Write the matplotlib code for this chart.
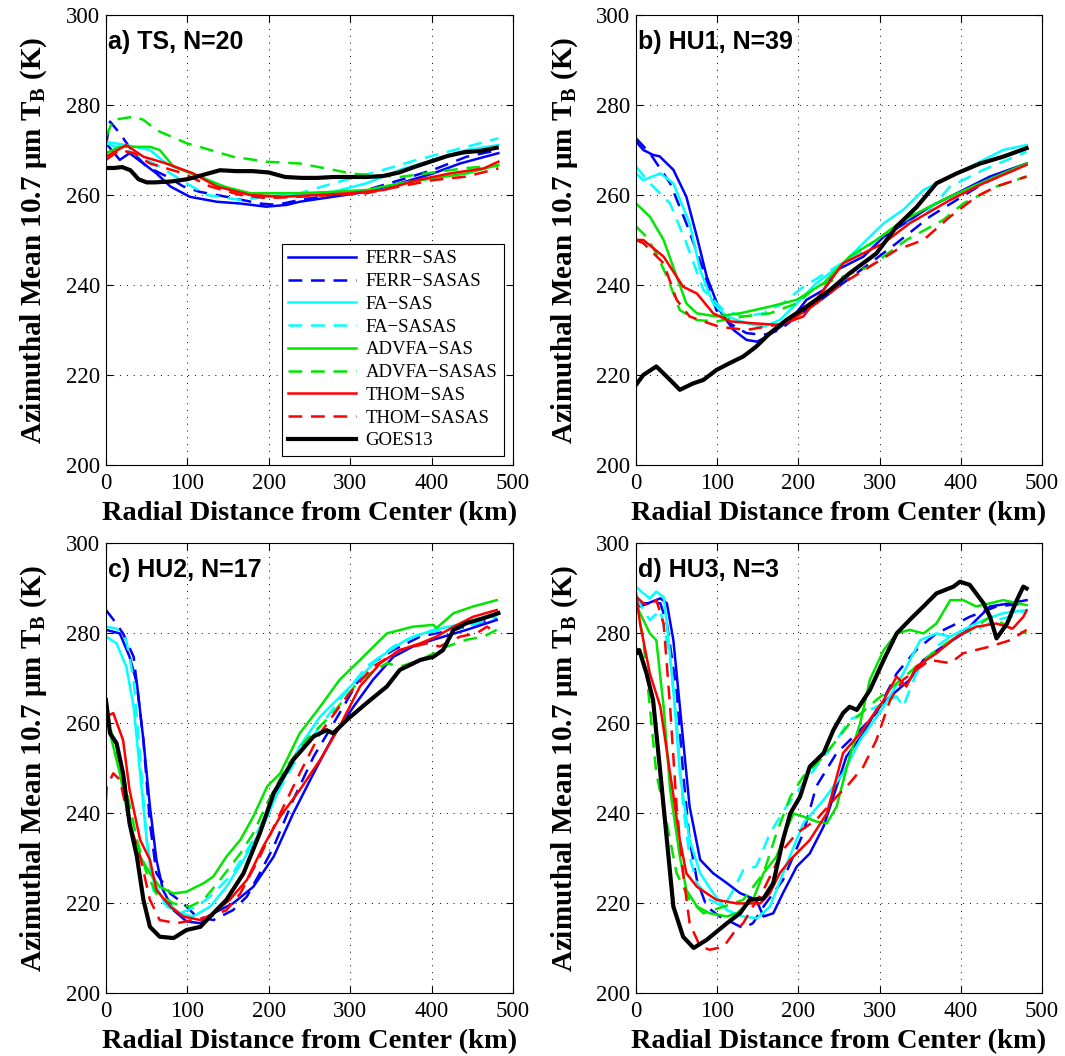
import matplotlib
matplotlib.use("Agg")
import matplotlib.pyplot as plt

plt.rcParams['font.family'] = ['Liberation Serif', 'DejaVu Serif']
plt.rcParams['mathtext.fontset'] = 'custom'
plt.rcParams['mathtext.rm'] = 'Liberation Serif'
plt.rcParams['mathtext.bf'] = 'Liberation Serif:bold'

# ---- a) TS ----
a_ferr_sas_km = [0, 17, 29, 62, 79, 103, 136, 165, 197, 222, 238, 279, 320, 361, 402, 435, 482]
a_ferr_sas_tb = [271.5, 267.8, 269.3, 264.8, 261.9, 259.6, 258.5, 258.1, 257.4, 257.8, 258.5, 259.6, 260.7, 262.6, 264.8, 267.0, 269.3]
a_ferr_sasas_km = [0, 5, 17, 34, 50, 75, 95, 115, 148, 189, 210, 238, 279, 320, 361, 402, 443, 482]
a_ferr_sasas_tb = [271, 276.3, 273.7, 269.3, 266.3, 264.1, 261.9, 260.7, 259.6, 258.1, 257.8, 258.9, 260, 261.1, 263.3, 265.6, 268.5, 270]
a_fa_sas_km = [0, 25, 54, 74, 115, 156, 197, 238, 279, 320, 361, 402, 443, 482]
a_fa_sas_tb = [271.8, 271.1, 270, 267, 264.1, 261.1, 259.6, 260, 260.7, 262.6, 265.6, 267.8, 270, 271.1]
a_fa_sasas_km = [0, 34, 66, 99, 124, 165, 197, 238, 279, 341, 382, 443, 482]
a_fa_sasas_tb = [271.5, 269.3, 266.3, 262.6, 260, 258.9, 259.6, 260.4, 262.6, 265.6, 267.8, 270.7, 272.6]
a_advfa_sas_km = [0, 17, 54, 66, 83, 115, 144, 177, 238, 279, 320, 361, 402, 443, 482]
a_advfa_sas_tb = [269.3, 270.7, 270.7, 270, 266.3, 264.1, 261.9, 260.4, 260.4, 260.7, 261.1, 262.6, 263.7, 264.8, 266.7]
a_advfa_sasas_km = [0, 9, 34, 46, 62, 99, 115, 156, 197, 238, 279, 300, 320, 361, 402, 443, 482]
a_advfa_sasas_tb = [273, 276.7, 277.4, 276.7, 274.4, 271.5, 270.7, 268.5, 267.4, 267, 265.6, 264.8, 264.5, 264, 265, 266, 266.5]
a_thom_sas_km = [0, 25, 46, 74, 107, 136, 177, 218, 259, 300, 341, 382, 423, 464, 482]
a_thom_sas_tb = [268.5, 271.1, 268.5, 267, 264.8, 261.9, 260, 259.6, 260, 260.4, 261.1, 263.3, 264.8, 265.9, 267.4]
a_thom_sasas_km = [0, 17, 34, 54, 95, 128, 165, 197, 238, 279, 320, 361, 402, 443, 482]
a_thom_sasas_tb = [267.8, 270, 269.3, 267, 264.8, 261.9, 260, 259.3, 259.6, 260, 260.4, 261.9, 263.3, 264.1, 265.9]
a_goes_km = [0, 10, 20, 30, 40, 50, 60, 80, 100, 120, 140, 160, 180, 200, 220, 240, 260, 280, 300, 320, 340, 360, 380, 400, 420, 440, 460, 480]
a_goes_tb = [266, 266, 266.2, 265.5, 263.5, 262.8, 262.8, 263, 263.5, 264.5, 265.5, 265.3, 265.3, 265, 264, 263.8, 263.8, 264, 264, 264, 264.2, 265, 266.3, 267.5, 268.7, 269.5, 269.8, 270.5]

# ---- b) HU1 ----
b_ferr_sas_km = [0, 9, 21, 29, 46, 62, 75, 87, 103, 120, 136, 149, 161, 173, 194, 210, 231, 247, 280, 305, 337, 362, 403, 436, 481]
b_ferr_sas_tb = [271.9, 270, 268.9, 268.6, 265.6, 259.6, 250.7, 241.9, 234.4, 230, 227.8, 227.4, 228.5, 230, 233, 236.7, 238.9, 243.3, 246.3, 250.7, 254.4, 257.4, 261.1, 264.1, 267]
b_ferr_sasas_km = [0, 17, 42, 62, 83, 99, 115, 136, 157, 177, 198, 222, 255, 288, 321, 362, 395, 428, 481]
b_ferr_sasas_tb = [272.6, 269.3, 262.6, 253.7, 243.3, 234.4, 231.5, 229.3, 228.9, 230, 233, 235.9, 240.4, 244.8, 249.3, 255.2, 258.9, 262.6, 266.8]
b_fa_sas_km = [0, 9, 30, 46, 66, 79, 95, 112, 136, 157, 177, 198, 222, 255, 280, 305, 329, 354, 387, 428, 452, 481]
b_fa_sas_tb = [264.8, 263.3, 264.8, 262.6, 253.7, 243.3, 235.9, 233, 231.5, 230.7, 232.2, 235.9, 240.4, 244.8, 249.3, 253.7, 256.7, 261.1, 264.1, 267.8, 270, 271.1]
b_fa_sasas_km = [0, 17, 42, 62, 83, 108, 132, 157, 181, 206, 247, 280, 313, 354, 387, 428, 481]
b_fa_sasas_tb = [266.3, 262.6, 258.1, 249.3, 238.9, 234.4, 233, 233.7, 235.9, 239.6, 244.1, 247.8, 252.2, 255.2, 261.9, 265.6, 269.6]
b_advfa_sas_km = [0, 17, 34, 50, 62, 75, 99, 128, 165, 198, 231, 263, 296, 329, 378, 415, 452, 481]
b_advfa_sas_tb = [258.1, 255.2, 250, 241.9, 235.9, 233.7, 233, 233.7, 235.2, 236.7, 240.4, 246.3, 250, 254.4, 258.9, 261.9, 264.8, 267]
b_advfa_sasas_km = [0, 13, 25, 38, 54, 75, 99, 132, 165, 198, 222, 288, 333, 378, 403, 444, 481]
b_advfa_sasas_tb = [253, 250.7, 247, 241.9, 234.4, 232.2, 231.9, 233, 233.7, 235.9, 239.6, 244.1, 250, 254.4, 258.1, 261.9, 264.1]
b_thom_sas_km = [0, 9, 34, 58, 75, 95, 116, 144, 177, 206, 231, 255, 305, 337, 387, 428, 481]
b_thom_sas_tb = [250, 250, 246.3, 239.6, 238.1, 233.7, 231.9, 231.5, 231.1, 233, 238.9, 244.8, 249.3, 253.7, 258.9, 262.6, 266.7]
b_thom_sasas_km = [0, 9, 34, 50, 66, 83, 103, 136, 185, 222, 255, 288, 321, 354, 387, 419, 444, 481]
b_thom_sasas_tb = [250, 249.3, 244.8, 236.7, 233, 231.9, 230.7, 230, 231.5, 235.9, 240.4, 244.1, 247.8, 250, 255.2, 259.6, 261.9, 264.1]
b_goes_km = [0, 9, 25, 42, 54, 70, 83, 99, 115, 132, 148, 165, 185, 210, 239, 263, 296, 321, 346, 370, 395, 424, 452, 481]
b_goes_tb = [217.8, 220, 221.9, 218.9, 216.7, 218.1, 218.9, 221.1, 222.6, 224.1, 226.3, 229.3, 232.2, 235.2, 238.9, 242.6, 247, 253, 257.4, 262.6, 264.8, 267, 268.5, 270.4]

# ---- c) HU2 ----
c_ferr_sas_km = [0, 17, 29, 38, 46, 54, 62, 70, 83, 99, 116, 132, 156, 181, 206, 230, 255, 279, 304, 328, 353, 377, 402, 443, 480]
c_ferr_sas_tb = [280.7, 279.9, 274.7, 268.8, 256.2, 241.4, 229.6, 222.9, 218.4, 215.9, 215.5, 217.7, 219.9, 223.6, 230.3, 239.9, 248.8, 257, 263.6, 269.6, 274.7, 277, 278.5, 280.7, 282.9]
c_ferr_sasas_km = [0, 9, 21, 34, 46, 54, 62, 79, 95, 111, 132, 156, 173, 189, 206, 230, 255, 287, 320, 353, 386, 427, 480]
c_ferr_sasas_tb = [285.1, 283, 279.9, 274.7, 256.2, 237.7, 226.6, 222.1, 219.9, 217, 216.2, 218.4, 221.4, 226.6, 232.5, 242.9, 252.5, 262.2, 272.5, 276.2, 279.2, 280.7, 283.3]
c_fa_sas_km = [0, 13, 25, 34, 42, 50, 58, 70, 91, 107, 128, 148, 169, 193, 214, 238, 263, 304, 337, 369, 402, 443, 480]
c_fa_sas_tb = [279.2, 277.7, 272.5, 263.6, 248.8, 234, 225.1, 220.7, 217.7, 217, 219.2, 223.6, 229.6, 237, 245.9, 254.8, 261.4, 268.8, 274.7, 278.5, 280.7, 282.2, 284.4]
c_fa_sasas_km = [0, 13, 25, 34, 42, 50, 58, 75, 91, 111, 128, 156, 181, 206, 238, 263, 287, 320, 353, 386, 443, 480]
c_fa_sasas_tb = [281.4, 281, 278.4, 269.6, 252.5, 234, 222.9, 219.2, 217.7, 219.2, 221.4, 226.6, 234, 242.9, 253.3, 259.2, 265.1, 272.5, 277, 279.9, 281.4, 283.6]
c_advfa_sas_km = [0, 5, 17, 29, 42, 54, 66, 83, 99, 120, 132, 148, 165, 181, 198, 214, 238, 263, 287, 312, 345, 377, 402, 406, 427, 451, 480]
c_advfa_sas_tb = [262.9, 257.7, 248.8, 237.7, 230.3, 226.6, 223.6, 222.1, 222.5, 224.4, 225.9, 230.3, 234, 239.2, 245.9, 248.8, 257.7, 263.6, 269.6, 274, 279.9, 281.4, 281.8, 281.1, 284.4, 285.9, 287.3]
c_advfa_sasas_km = [0, 9, 21, 38, 50, 62, 83, 103, 120, 140, 165, 181, 198, 222, 246, 279, 312, 345, 361, 386, 419, 443, 464, 480]
c_advfa_sasas_tb = [263.3, 256.2, 248.8, 234, 226.6, 222.1, 219.9, 219.2, 220.7, 225.1, 231, 235.5, 242.2, 250.3, 256.2, 262.2, 269.6, 273.3, 272.5, 274, 277, 278.5, 279.2, 280.7]
c_thom_sas_km = [0, 9, 21, 29, 42, 54, 62, 79, 95, 116, 132, 152, 173, 193, 214, 238, 263, 287, 312, 337, 361, 386, 406, 427, 451, 480]
c_thom_sas_tb = [261.4, 262.2, 256.2, 245.1, 234, 229.6, 222.9, 219.2, 217, 216.2, 217.7, 220.7, 225.1, 232.5, 239.2, 245.1, 251.8, 259.2, 268.1, 273.3, 276.2, 277.7, 279.2, 281.4, 283.6, 285.1]
c_thom_sasas_km = [0, 1, 9, 17, 29, 42, 54, 66, 87, 107, 128, 148, 165, 189, 214, 238, 263, 296, 328, 361, 394, 410, 435, 455, 468, 480]
c_thom_sasas_tb = [242.9, 245.9, 248.8, 247.4, 237.7, 230.3, 220.7, 216.2, 215.5, 216.2, 217, 218.4, 222.1, 230.3, 239.9, 248.8, 257.7, 265.9, 272.5, 276.2, 277.7, 277, 279.2, 279.9, 281.4, 279.9]
c_goes_km = [0, 5, 13, 21, 29, 38, 46, 54, 66, 83, 99, 116, 128, 148, 169, 189, 206, 230, 255, 271, 279, 296, 320, 345, 361, 386, 402, 414, 427, 443, 464, 482]
c_goes_tb = [265.1, 257.7, 255.5, 248.8, 237.7, 230.3, 220.7, 214.7, 212.5, 212.2, 214, 214.7, 217, 220.7, 226.6, 235.5, 244.4, 251.8, 257, 258.4, 257.7, 260.7, 264.4, 268.1, 271.8, 274, 274.7, 276.2, 280.7, 282.2, 283.3, 284.4]

# ---- d) HU3 ----
d_ferr_sas_km = [0, 5, 30, 38, 46, 54, 66, 79, 95, 112, 128, 148, 157, 169, 181, 198, 214, 231, 243, 259, 280, 296, 313, 337, 354, 378, 403, 419, 436, 461, 481]
d_ferr_sas_tb = [287.3, 285.9, 287.7, 286.6, 278.4, 263.6, 241.4, 229.6, 226.6, 224.4, 222.2, 220.7, 217, 217.7, 222.2, 228.1, 231, 237, 243.6, 252.5, 257.7, 262.9, 265.9, 269.6, 274, 277, 279.9, 282.9, 285.9, 286.6, 287.3]
d_ferr_sasas_km = [0, 9, 30, 38, 50, 58, 66, 75, 87, 103, 120, 132, 144, 157, 181, 206, 222, 247, 272, 296, 321, 345, 370, 395, 411, 444, 481]
d_ferr_sasas_tb = [287.3, 286.6, 286.6, 282.1, 267.3, 248.8, 234, 225.1, 219.2, 217, 215.5, 214.4, 215.5, 219.2, 225.1, 235.5, 245.9, 253.3, 257.7, 262.2, 271, 276.2, 279.9, 282.1, 283.6, 285.9, 286.6]
d_fa_sas_km = [0, 9, 17, 25, 34, 38, 46, 54, 66, 79, 95, 112, 132, 149, 165, 181, 206, 231, 255, 276, 305, 329, 350, 370, 387, 403, 428, 452, 481]
d_fa_sas_tb = [290.3, 288.8, 287.7, 289.2, 288, 282.1, 267.3, 248.8, 234, 226.6, 222.2, 218.4, 217, 216.6, 219.2, 226.6, 237.7, 242.9, 248.8, 256.2, 263.6, 271, 278.4, 279.9, 279.2, 280.7, 282.9, 284.4, 285.1]
d_fa_sasas_km = [0, 9, 17, 30, 42, 50, 58, 66, 75, 91, 108, 120, 132, 148, 165, 185, 210, 247, 263, 296, 321, 329, 345, 370, 387, 419, 444, 461, 481]
d_fa_sasas_tb = [288.1, 285.1, 282.9, 285.1, 274.7, 259.9, 241.4, 230.3, 224.4, 220.7, 219.2, 222.9, 227.3, 228.1, 235.5, 241.4, 247.4, 256.2, 260.7, 263.6, 265.9, 263.6, 271, 277, 279.2, 280.7, 282.9, 283.6, 285.1]
d_advfa_sas_km = [0, 1, 17, 25, 34, 42, 54, 62, 75, 91, 112, 124, 144, 157, 173, 185, 194, 206, 222, 235, 247, 263, 276, 288, 305, 321, 337, 354, 370, 387, 403, 419, 436, 452, 481]
d_advfa_sas_tb = [288.1, 285.9, 279.9, 278.4, 263.6, 245.1, 230.3, 222.9, 219.2, 217.7, 217, 217.7, 220.7, 226.6, 230.3, 236.2, 239.9, 239.2, 238.1, 237.7, 241.4, 252.5, 259.9, 269.6, 276.2, 279.9, 280.7, 279.9, 282.1, 287.3, 287.3, 285.9, 286.6, 287.3, 286.2]
d_advfa_sasas_km = [0, 9, 17, 25, 38, 50, 66, 83, 108, 132, 157, 173, 190, 206, 231, 263, 296, 321, 345, 370, 395, 419, 436, 452, 464, 481]
d_advfa_sasas_tb = [287.3, 278.4, 263.6, 248.8, 237.7, 226.6, 220.7, 217.7, 219.2, 220.7, 226.6, 235.5, 243.6, 248.1, 252.5, 259.9, 265.1, 268.8, 272.5, 276.2, 279.2, 281.4, 283.6, 282.1, 280.7, 279.9]
d_thom_sas_km = [0, 5, 17, 30, 42, 54, 62, 75, 99, 124, 153, 165, 177, 190, 214, 235, 255, 276, 305, 321, 333, 345, 370, 395, 419, 444, 464, 477, 481]
d_thom_sas_tb = [288.8, 282.1, 271, 263.6, 248.8, 234, 226.6, 223.6, 220.7, 219.9, 219.9, 222.2, 226.6, 229.6, 234, 239.9, 253.3, 257.7, 265.1, 270.3, 268.1, 272.5, 275.5, 279.2, 281.4, 282.1, 281, 283.6, 285]
d_thom_sasas_km = [0, 9, 17, 25, 34, 42, 50, 58, 66, 79, 91, 108, 120, 132, 144, 157, 181, 198, 222, 247, 263, 280, 296, 313, 329, 362, 387, 403, 436, 461, 481]
d_thom_sasas_tb = [288.1, 286.6, 286, 287.3, 282.1, 263.6, 241.4, 226.6, 215.5, 210.3, 209.6, 210.3, 213.3, 215.5, 219.2, 222.9, 231.8, 235.5, 238.5, 243.6, 246.6, 250.3, 256.2, 265.1, 269.6, 274, 273.3, 275.5, 277, 278.4, 280.7]
d_goes_km = [0, 1, 4, 13, 21, 30, 38, 46, 58, 71, 87, 112, 128, 140, 157, 169, 181, 190, 202, 214, 231, 243, 255, 263, 272, 288, 305, 321, 337, 354, 370, 391, 399, 411, 428, 436, 444, 457, 469, 477, 481]
d_goes_tb = [276.2, 275.5, 276.2, 271, 265.1, 248.8, 234, 219.2, 212.5, 210, 211.8, 215.5, 217.7, 220.7, 221, 224.4, 234, 239.9, 243.6, 250.3, 253.3, 258.4, 262.2, 263.6, 262.9, 267.3, 274, 279.9, 282.9, 285.9, 288.8, 290.3, 291.4, 290.7, 286.6, 283.6, 278.8, 282.1, 287.3, 290.3, 289.9]

models = ['FERR\u2212SAS', 'FERR\u2212SASAS', 'FA\u2212SAS', 'FA\u2212SASAS',
          'ADVFA\u2212SAS', 'ADVFA\u2212SASAS', 'THOM\u2212SAS', 'THOM\u2212SASAS', 'GOES13']
colors = ['#0000ff', '#0000ff', '#00ffff', '#00ffff', '#00e600', '#00e600', '#ff0000', '#ff0000', '#000000']
dashed = [False, True, False, True, False, True, False, True, False]

panels = [
    ('a) TS, N=20', [(a_ferr_sas_km, a_ferr_sas_tb), (a_ferr_sasas_km, a_ferr_sasas_tb), (a_fa_sas_km, a_fa_sas_tb),
                     (a_fa_sasas_km, a_fa_sasas_tb), (a_advfa_sas_km, a_advfa_sas_tb), (a_advfa_sasas_km, a_advfa_sasas_tb),
                     (a_thom_sas_km, a_thom_sas_tb), (a_thom_sasas_km, a_thom_sasas_tb), (a_goes_km, a_goes_tb)]),
    ('b) HU1, N=39', [(b_ferr_sas_km, b_ferr_sas_tb), (b_ferr_sasas_km, b_ferr_sasas_tb), (b_fa_sas_km, b_fa_sas_tb),
                      (b_fa_sasas_km, b_fa_sasas_tb), (b_advfa_sas_km, b_advfa_sas_tb), (b_advfa_sasas_km, b_advfa_sasas_tb),
                      (b_thom_sas_km, b_thom_sas_tb), (b_thom_sasas_km, b_thom_sasas_tb), (b_goes_km, b_goes_tb)]),
    ('c) HU2, N=17', [(c_ferr_sas_km, c_ferr_sas_tb), (c_ferr_sasas_km, c_ferr_sasas_tb), (c_fa_sas_km, c_fa_sas_tb),
                      (c_fa_sasas_km, c_fa_sasas_tb), (c_advfa_sas_km, c_advfa_sas_tb), (c_advfa_sasas_km, c_advfa_sasas_tb),
                      (c_thom_sas_km, c_thom_sas_tb), (c_thom_sasas_km, c_thom_sasas_tb), (c_goes_km, c_goes_tb)]),
    ('d) HU3, N=3', [(d_ferr_sas_km, d_ferr_sas_tb), (d_ferr_sasas_km, d_ferr_sasas_tb), (d_fa_sas_km, d_fa_sas_tb),
                     (d_fa_sasas_km, d_fa_sasas_tb), (d_advfa_sas_km, d_advfa_sas_tb), (d_advfa_sasas_km, d_advfa_sasas_tb),
                     (d_thom_sas_km, d_thom_sas_tb), (d_thom_sasas_km, d_thom_sasas_tb), (d_goes_km, d_goes_tb)]),
]

fig = plt.figure(figsize=(10.65, 10.56), dpi=100)
# axes boxes in figure fractions (left, bottom, width, height)
boxes = [(0.0995, 0.5597, 0.3822, 0.4261), (0.5972, 0.5597, 0.3812, 0.4261),
         (0.0995, 0.0597, 0.3822, 0.4261), (0.5972, 0.0597, 0.3812, 0.4261)]

for i, (title, series) in enumerate(panels):
    ax = fig.add_axes(boxes[i])
    for j, (km, tb) in enumerate(series):
        if j == 8:
            ax.plot(km, tb, color=colors[j], lw=3.0, label=models[j], zorder=3)
        else:
            ls = (0, (5.5, 3.5)) if dashed[j] else '-'
            ax.plot(km, tb, color=colors[j], lw=1.8, ls=ls, label=models[j])
    ax.set_xlim(0, 500)
    ax.set_ylim(200, 300)
    ax.set_xticks(range(0, 501, 100))
    ax.set_yticks(range(200, 301, 20))
    ax.grid(True, color='black', ls=(0, (1, 6)), lw=0.7)
    ax.tick_params(direction='in', top=True, right=True, labelsize=16.5, length=5)
    ax.tick_params(axis='x', pad=6)
    ax.tick_params(axis='y', pad=4)
    ax.set_xlabel('Radial Distance from Center (km)', fontsize=20.5, fontweight='bold', labelpad=5)
    ax.set_ylabel(r'Azimuthal Mean 10.7 $\mathbf{\mu}$m T$_\mathbf{B}$ (K)', fontsize=21,
                  fontweight='bold', labelpad=12)
    ax.text(0.005, 0.94, title, transform=ax.transAxes, fontsize=18, fontweight='bold',
            family=['Liberation Sans', 'DejaVu Sans'], va='center', ha='left')
    if i == 0:
        leg = ax.legend(loc='lower right', bbox_to_anchor=(0.977, 0.02), fontsize=13.5,
                        handlelength=3.6, labelspacing=0.3, borderaxespad=0, fancybox=False,
                        framealpha=1, edgecolor='black', handletextpad=0.5, borderpad=0.35)
        leg.get_frame().set_linewidth(0.8)

fig.savefig('out.png', dpi=100)
